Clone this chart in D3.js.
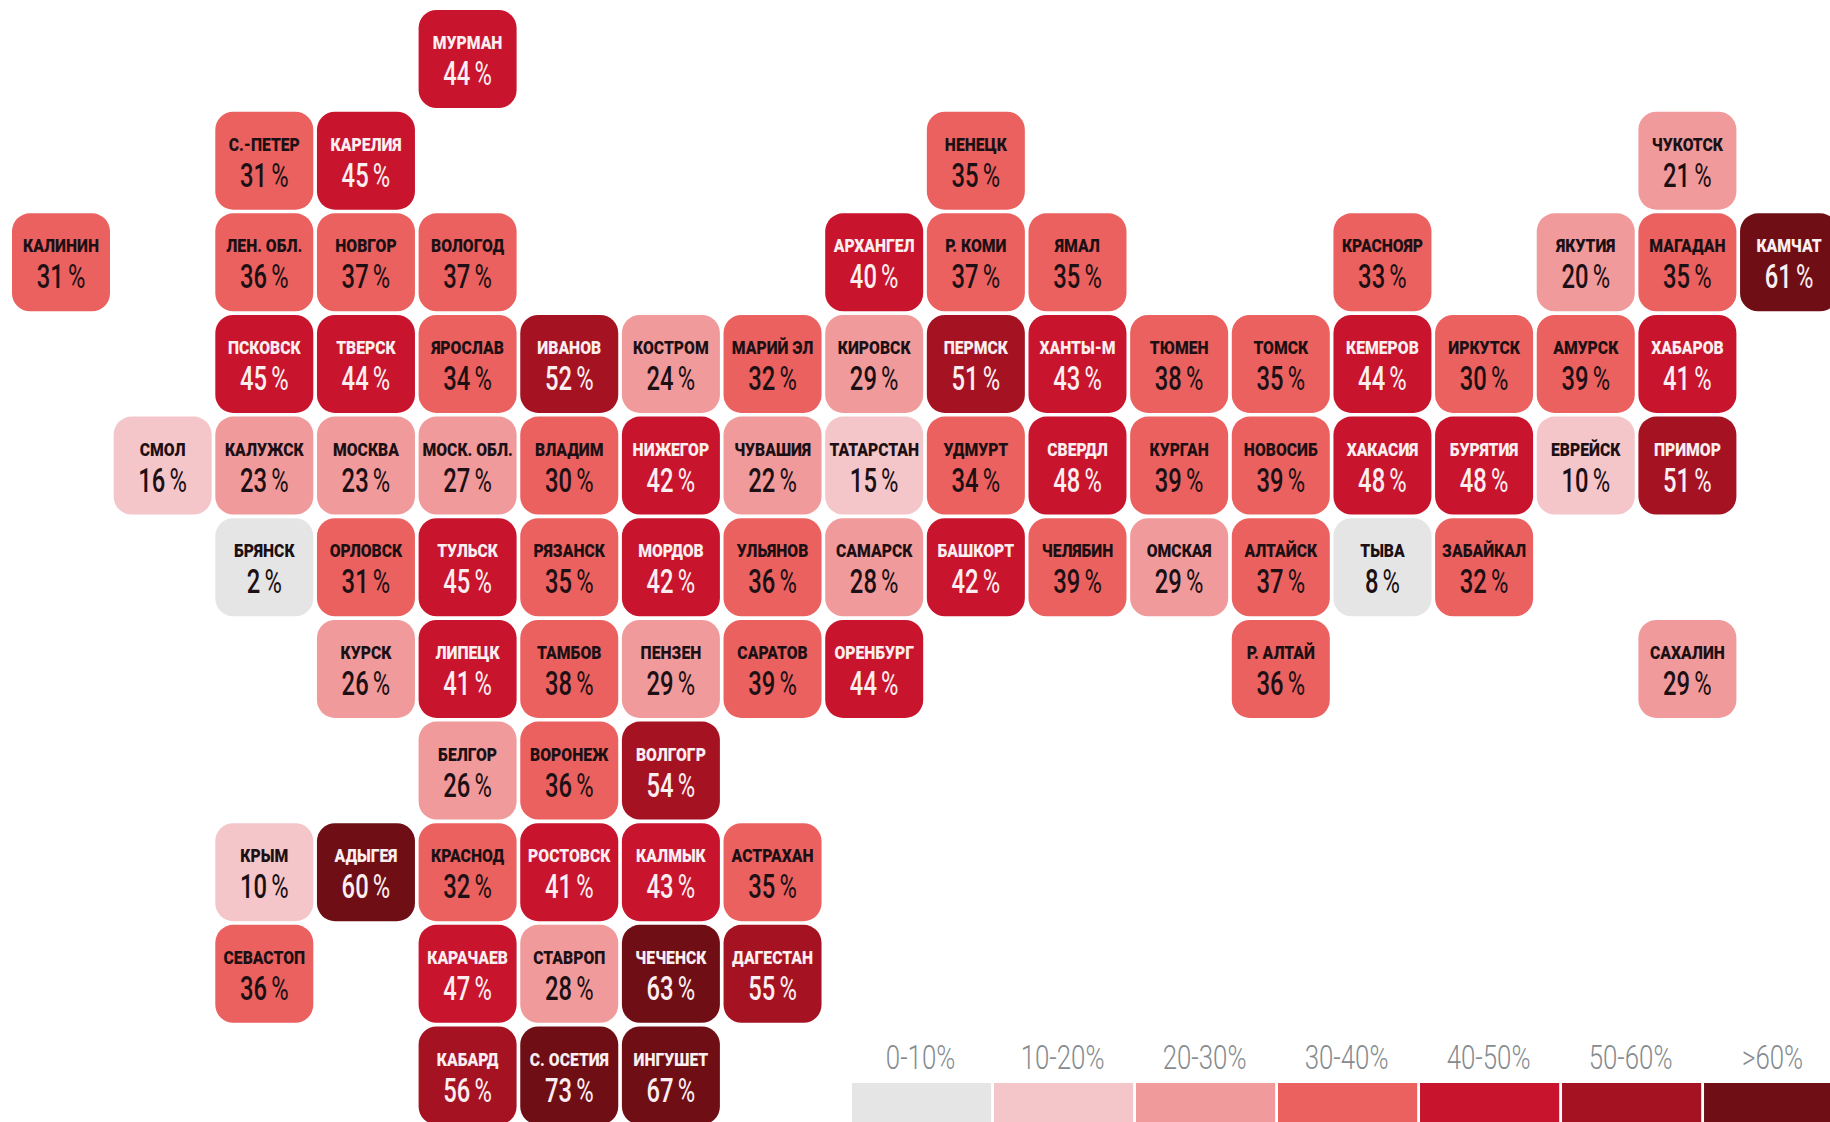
<!DOCTYPE html>
<html>
<head>
<meta charset="utf-8">
<script src="https://cdn.jsdelivr.net/npm/d3@7"></script>
<style>
    body { margin: 0; background: #fff; overflow: hidden; }
    text { font-family: Roboto, "Liberation Sans", sans-serif; }
</style>
</head>
<body>
<div id="chart"></div>
<script>
//DATA
const regions = [
    "МУРМАН",
    "С.-ПЕТЕР", "КАРЕЛИЯ", "НЕНЕЦК", "ЧУКОТСК",
    "КАЛИНИН", "ЛЕН. ОБЛ.", "НОВГОР", "ВОЛОГОД", "АРХАНГЕЛ", "Р. КОМИ", "ЯМАЛ", "КРАСНОЯР", "ЯКУТИЯ", "МАГАДАН", "КАМЧАТ",
    "ПСКОВСК", "ТВЕРСК", "ЯРОСЛАВ", "ИВАНОВ", "КОСТРОМ", "МАРИЙ ЭЛ", "КИРОВСК", "ПЕРМСК", "ХАНТЫ-М", "ТЮМЕН", "ТОМСК", "КЕМЕРОВ", "ИРКУТСК", "АМУРСК", "ХАБАРОВ",
    "СМОЛ", "КАЛУЖСК", "МОСКВА", "МОСК. ОБЛ.", "ВЛАДИМ", "НИЖЕГОР", "ЧУВАШИЯ", "ТАТАРСТАН", "УДМУРТ", "СВЕРДЛ", "КУРГАН", "НОВОСИБ", "ХАКАСИЯ", "БУРЯТИЯ", "ЕВРЕЙСК", "ПРИМОР",
    "БРЯНСК", "ОРЛОВСК", "ТУЛЬСК", "РЯЗАНСК", "МОРДОВ", "УЛЬЯНОВ", "САМАРСК", "БАШКОРТ", "ЧЕЛЯБИН", "ОМСКАЯ", "АЛТАЙСК", "ТЫВА", "ЗАБАЙКАЛ",
    "КУРСК", "ЛИПЕЦК", "ТАМБОВ", "ПЕНЗЕН", "САРАТОВ", "ОРЕНБУРГ", "Р. АЛТАЙ", "САХАЛИН",
    "БЕЛГОР", "ВОРОНЕЖ", "ВОЛГОГР",
    "КРЫМ", "АДЫГЕЯ", "КРАСНОД", "РОСТОВСК", "КАЛМЫК", "АСТРАХАН",
    "СЕВАСТОП", "КАРАЧАЕВ", "СТАВРОП", "ЧЕЧЕНСК", "ДАГЕСТАН",
    "КАБАРД", "С. ОСЕТИЯ", "ИНГУШЕТ"
];
const shares = [
    44,
    31, 45, 35, 21,
    31, 36, 37, 37, 40, 37, 35, 33, 20, 35, 61,
    45, 44, 34, 52, 24, 32, 29, 51, 43, 38, 35, 44, 30, 39, 41,
    16, 23, 23, 27, 30, 42, 22, 15, 34, 48, 39, 39, 48, 48, 10, 51,
    2, 31, 45, 35, 42, 36, 28, 42, 39, 29, 37, 8, 32,
    26, 41, 38, 29, 39, 44, 36, 29,
    26, 36, 54,
    10, 60, 32, 41, 43, 35,
    36, 47, 28, 63, 55,
    56, 73, 67
];
// tile map grid: column and row number of each region
const gridCols = [
    4,
    2, 3, 9, 16,
    0, 2, 3, 4, 8, 9, 10, 13, 15, 16, 17,
    2, 3, 4, 5, 6, 7, 8, 9, 10, 11, 12, 13, 14, 15, 16,
    1, 2, 3, 4, 5, 6, 7, 8, 9, 10, 11, 12, 13, 14, 15, 16,
    2, 3, 4, 5, 6, 7, 8, 9, 10, 11, 12, 13, 14,
    3, 4, 5, 6, 7, 8, 12, 16,
    4, 5, 6,
    2, 3, 4, 5, 6, 7,
    2, 4, 5, 6, 7,
    4, 5, 6
];
const gridRows = [
    0,
    1, 1, 1, 1,
    2, 2, 2, 2, 2, 2, 2, 2, 2, 2, 2,
    3, 3, 3, 3, 3, 3, 3, 3, 3, 3, 3, 3, 3, 3, 3,
    4, 4, 4, 4, 4, 4, 4, 4, 4, 4, 4, 4, 4, 4, 4, 4,
    5, 5, 5, 5, 5, 5, 5, 5, 5, 5, 5, 5, 5,
    6, 6, 6, 6, 6, 6, 6, 6,
    7, 7, 7,
    8, 8, 8, 8, 8, 8,
    9, 9, 9, 9, 9,
    10, 10, 10
];
const legendLabels = ["0-10%", "10-20%", "20-30%", "30-40%", "40-50%", "50-60%", ">60%"];
const thresholds = [10, 20, 30, 40, 50, 60];
const palette = ["#e5e5e5", "#f4c5c9", "#f09a9b", "#ea615f", "#c8142d", "#a51323", "#6f0f15"];

//SVG
const width = 1830;
const height = 1122;
const svg = d3.select("#chart")
    .append("svg")
    .attr("width", width)
    .attr("height", height)
    .attr("viewBox", [0, 0, width, height]);

const tileStep = 101.65;
const tileSize = 98;

//Scales
const xScale = d3.scaleBand()
    .domain(d3.range(18))
    .range([12 - (tileStep - tileSize) / 2, 12 - (tileStep - tileSize) / 2 + 18 * tileStep])
    .paddingInner((tileStep - tileSize) / tileStep)
    .paddingOuter((tileStep - tileSize) / tileStep / 2);
const yScale = d3.scaleBand()
    .domain(d3.range(11))
    .range([10 - (tileStep - tileSize) / 2, 10 - (tileStep - tileSize) / 2 + 11 * tileStep])
    .paddingInner((tileStep - tileSize) / tileStep)
    .paddingOuter((tileStep - tileSize) / tileStep / 2);
const colorScale = d3.scaleThreshold()
    .domain(thresholds)
    .range(palette);

const tileData = regions.map((name, i) => ({
    name: name, share: shares[i], col: gridCols[i], row: gridRows[i]
}));
const textColor = d => d.share >= 40 ? "#fbeef0" : "#1c1014";

//Tiles
const tiles = svg.selectAll("g.tile")
    .data(tileData)
    .enter()
    .append("g")
    .attr("class", "tile")
    .attr("transform", d => `translate(${xScale(d.col)}, ${yScale(d.row)})`);

tiles.append("rect")
    .attr("width", xScale.bandwidth())
    .attr("height", yScale.bandwidth())
    .attr("rx", 18)
    .attr("fill", d => colorScale(d.share));

// the fonts here have no condensed cut, so the text is squeezed sideways
tiles.append("text")
    .attr("transform", `translate(${xScale.bandwidth() / 2}, 39) scale(0.85, 1)`)
    .attr("text-anchor", "middle")
    .attr("font-size", "18.5px")
    .attr("font-weight", 900)
    .attr("fill", textColor)
    .text(d => d.name);

const valueText = tiles.append("text")
    .attr("transform", `translate(${xScale.bandwidth() / 2}, 75) scale(0.7, 1)`)
    .attr("text-anchor", "middle")
    .attr("font-size", "34px")
    .attr("font-weight", 500)
    .attr("fill", textColor);
valueText.append("tspan").text(d => d.share);
valueText.append("tspan")
    .attr("dx", 6)
    .attr("font-weight", 400)
    .text("%");

//Legend
const legendX = d3.scaleBand()
    .domain(legendLabels)
    .range([852, 852 + 7 * 141.6])
    .paddingInner(0.02)
    .paddingOuter(0);

svg.selectAll("rect.legend")
    .data(legendLabels)
    .enter()
    .append("rect")
    .attr("class", "legend")
    .attr("x", d => legendX(d))
    .attr("y", 1083)
    .attr("width", legendX.bandwidth())
    .attr("height", 39)
    .attr("fill", (d, i) => palette[i]);

svg.selectAll("text.legend")
    .data(legendLabels)
    .enter()
    .append("text")
    .attr("class", "legend")
    .attr("transform", d => `translate(${legendX(d) + legendX.bandwidth() / 2 - 1}, 1069) scale(0.76, 1)`)
    .attr("text-anchor", "middle")
    .attr("font-size", "34px")
    .attr("font-weight", 300)
    .attr("fill", "#868b8f")
    .text(d => d);
</script>
</body>
</html>
